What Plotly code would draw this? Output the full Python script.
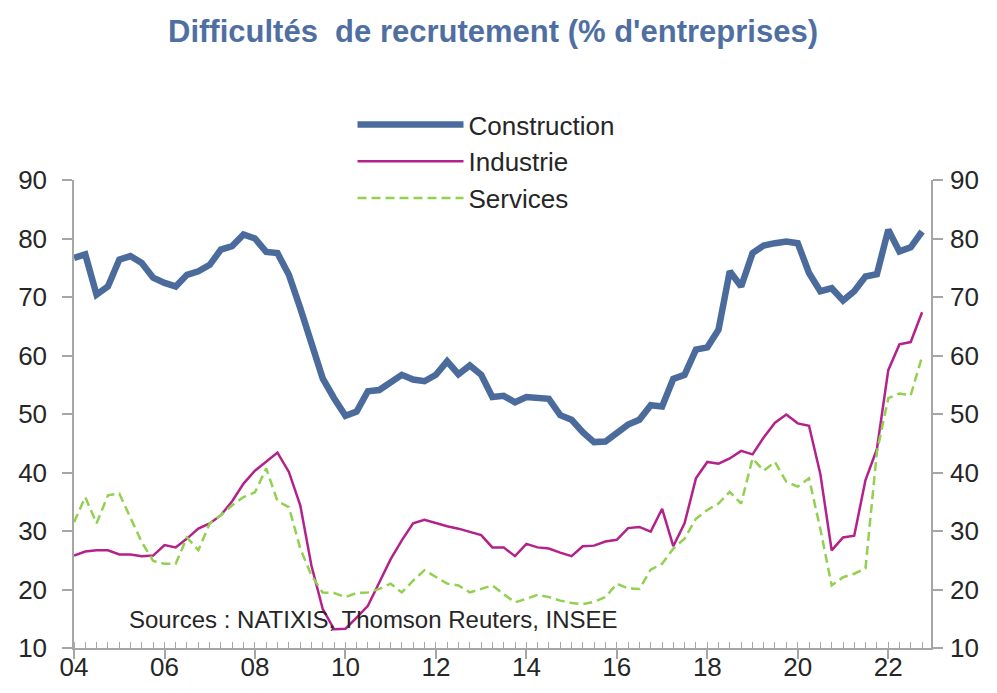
import pandas as pd
import plotly.graph_objects as go

# Quarterly survey dates (Q1 2004 .. Q4 2022)
quarters = pd.date_range("2004-01-01", periods=76, freq="QS")

construction = [76.7, 77.3, 70.4, 71.8, 76.4, 77.0, 75.8, 73.3, 72.4, 71.8, 73.8, 74.4, 75.5, 78.1, 78.7, 80.7,
                80.0, 77.7, 77.5, 73.8, 68.1, 62.4, 56.1, 52.7, 49.7, 50.4, 53.9, 54.1, 55.5, 56.7, 55.9, 55.6,
                56.7, 59.0, 56.8, 58.3, 56.7, 52.9, 53.1, 52.0, 52.9, 52.7, 52.6, 49.8, 49.0, 46.9, 45.2,
                45.3, 46.7, 48.2, 49.0, 51.5, 51.3, 56.0, 56.7, 61.0, 61.4, 64.4, 74.4, 71.8, 77.5, 78.8, 79.2,
                79.5, 79.2, 74.1, 71.0, 71.5, 69.4, 71.0, 73.5, 73.9, 81.5, 77.8, 78.5, 81.2]

industrie = [25.8, 26.5, 26.7, 26.7, 26.0, 26.0, 25.7, 25.8, 27.6, 27.2, 28.7, 30.4, 31.3, 32.7, 35.1, 38.1,
             40.3, 41.8, 43.4, 40.1, 34.4, 24.1, 16.7, 13.2, 13.3, 15.2, 17.2, 21.2, 25.2, 28.4, 31.3, 31.9,
             31.3, 30.8, 30.4, 29.8, 29.3, 27.2, 27.2, 25.7, 27.8, 27.2, 27.0, 26.3, 25.7, 27.4, 27.5,
             28.2, 28.5, 30.5, 30.7, 29.9, 33.8, 27.4, 31.3, 39.0, 41.8, 41.5, 42.4, 43.7, 43.1, 46.0, 48.5,
             49.9, 48.4, 48.0, 39.8, 26.7, 28.9, 29.2, 38.7, 44.0, 57.5, 61.9, 62.3, 67.4]

services = [31.5, 35.8, 31.3, 36.1, 36.4, 32.4, 28.1, 24.9, 24.4, 24.4, 28.9, 26.7, 31.3, 32.7, 34.4, 35.8,
            36.6, 40.7, 35.1, 34.1, 27.0, 22.4, 19.5, 19.4, 18.7, 19.4, 19.5, 20.1, 21.0, 19.5, 21.5, 23.3,
            22.1, 21.0, 20.7, 19.5, 20.1, 20.7, 19.2, 17.8, 18.4, 19.1, 18.7, 18.1, 17.7, 17.5, 17.9,
            18.7, 21.0, 20.2, 20.1, 23.4, 24.4, 27.0, 28.7, 32.1, 33.6, 34.7, 36.7, 34.7, 42.4, 40.3, 41.8,
            38.4, 37.6, 39.0, 30.4, 20.7, 22.1, 22.7, 23.6, 43.5, 52.7, 53.5, 53.2, 59.8]

y_ticks = [10, 20, 30, 40, 50, 60, 70, 80, 90]

FONT = "Arial, Liberation Sans, sans-serif"
AXIS_COL = "#a6a6a6"
TXT = "#262626"

# the page body adds an 8px offset; the figure is sized to fill the rest of the window
W, H = 989, 685

fig = go.Figure()
fig.add_trace(go.Scatter(x=quarters, y=construction, name="Construction", mode="lines",
                         line=dict(color="#4a6b9b", width=6.5), legendgroup="a", yaxis="y2"))
fig.add_trace(go.Scatter(x=quarters, y=industrie, name="Industrie", mode="lines",
                         line=dict(color="#b3218b", width=2.5), legendgroup="b"))
fig.add_trace(go.Scatter(x=quarters, y=services, name="Services", mode="lines",
                         line=dict(color="#92d050", width=2.5, dash="9px,5px"), legendgroup="c"))

yax = dict(range=[10, 90], tickvals=y_ticks, ticks="outside", ticklen=10, tickwidth=1.5,
           tickcolor=AXIS_COL, showline=True, linecolor=AXIS_COL, linewidth=1.5, showgrid=False,
           zeroline=False, tickfont=dict(family=FONT, size=26, color=TXT))

fig.update_layout(
    width=W, height=H,
    margin=dict(l=66, r=66, t=172, b=45, autoexpand=False),
    paper_bgcolor="white", plot_bgcolor="white",
    title=dict(text="<b>Difficultés  de recrutement (% d'entreprises)</b>",
               x=485 / W, xanchor="center", y=1 - 23 / H, yanchor="middle", yref="container",
               font=dict(family=FONT, size=31, color="#4f6fa3")),
    xaxis=dict(type="date", range=["2004-01-01", "2022-12-12"], tick0="2004-01-01", dtick="M24",
               tickformat="%y", ticks="outside", ticklen=9, tickwidth=1.5, tickcolor=AXIS_COL,
               showline=True, linecolor=AXIS_COL, linewidth=1.5, showgrid=False, zeroline=False,
               ticklabelstandoff=-14,
               tickfont=dict(family=FONT, size=26, color=TXT),
               minor=dict(dtick="M3", tick0="2004-01-01", ticks="inside", ticklen=6, tickwidth=1,
                          tickcolor=AXIS_COL, showgrid=False)),
    yaxis=dict(yax, ticklabelstandoff=10),
    yaxis2=dict(yax, overlaying="y", side="right", ticklabelstandoff=2),
    legend=dict(xref="container", yref="container", x=344.5 / W, y=1 - 93 / H,
                xanchor="left", yanchor="top", bgcolor="rgba(0,0,0,0)",
                font=dict(family=FONT, size=26, color=TXT), itemwidth=106, tracegroupgap=3,
                traceorder="normal"),
    showlegend=True,
)

fig.add_annotation(text="Sources : NATIXIS, Thomson Reuters, INSEE", xref="paper", yref="paper",
                   x=0.062, y=0.06, xanchor="left", yanchor="middle", showarrow=False,
                   font=dict(family=FONT, size=24, color=TXT))

fig.write_html("out.html")
